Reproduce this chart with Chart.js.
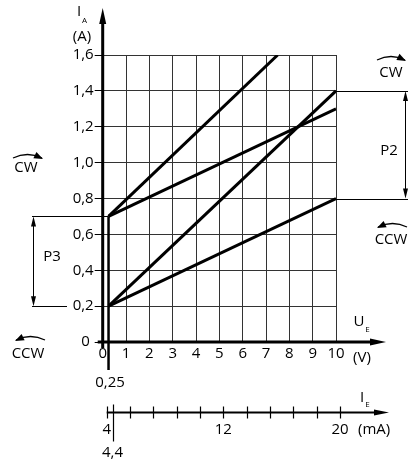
<!DOCTYPE html>
<html>
<head>
<meta charset="utf-8">
<script src="https://cdn.jsdelivr.net/npm/chart.js@4.4.1/dist/chart.umd.min.js"></script>
<style>
  html, body { margin: 0; padding: 0; background: #fff; }
  canvas { display: block; }
</style>
</head>
<body>
<canvas id="chart" width="416" height="465"></canvas>
<script>
// Characteristic lines, U_E (V) -> I_A (A)
const upperSteepX = [0.25, 7.5];
const upperSteepY = [0.7, 1.6];
const upperFlatX = [0.25, 10];
const upperFlatY = [0.7, 1.3];
const lowerSteepX = [0.25, 10];
const lowerSteepY = [0.2, 1.4];
const lowerFlatX = [0.25, 10];
const lowerFlatY = [0.2, 0.8];

// Axis ticks
const uTicks = [0, 1, 2, 3, 4, 5, 6, 7, 8, 9, 10];
const iaTicks = [0, 0.2, 0.4, 0.6, 0.8, 1.0, 1.2, 1.4, 1.6];
const ieTicks = [4, 5.6, 7.2, 8.8, 10.4, 12, 13.6, 15.2, 16.8, 18.4, 20];
const ieLabels = [4, 12, 20];

// Marked values
const uOffset = 0.25;
const ieOffset = 4.4;
const p2Range = [0.8, 1.4];
const p3Range = [0.2, 0.7];

const FONT = '"Open Sans", "Noto Sans", sans-serif';
Chart.defaults.font.family = FONT;
Chart.defaults.font.size = 15;
Chart.defaults.color = '#000';

function toPoints(xs, ys) {
    return xs.map((x, i) => ({ x: x, y: ys[i] }));
}

function lineDataset(xs, ys) {
    return {
        data: toPoints(xs, ys),
        showLine: true,
        borderColor: '#000',
        borderWidth: 3,
        pointRadius: 0,
        fill: false
    };
}

function fmtComma(v) {
    return v === 0 ? '0 ' : v.toFixed(1).replace('.', ',');
}

// little filled arrow head, tip at (x, y), pointing along angle a
function arrowHead(ctx, x, y, a, len, half) {
    ctx.save();
    ctx.translate(x, y);
    ctx.rotate(a);
    ctx.beginPath();
    ctx.moveTo(0, 0);
    ctx.lineTo(-len, -half);
    ctx.lineTo(-len, half);
    ctx.closePath();
    ctx.fill();
    ctx.restore();
}

// curved rotation arrow, head at the right end (cw) or the left end (ccw)
function turnArrow(ctx, x1, x2, y, cw) {
    const cx = (x1 + x2) / 2, cy = y - 7;
    ctx.lineWidth = 1.3;
    ctx.beginPath();
    ctx.moveTo(x1, y);
    ctx.quadraticCurveTo(cx, cy, x2, y);
    ctx.stroke();
    if (cw) {
        arrowHead(ctx, x2 + 1, y + 1, Math.atan2(y - cy, x2 - cx), 9, 3.5);
    } else {
        arrowHead(ctx, x1 - 1, y + 1, Math.atan2(y - cy, x1 - cx), 9, 3.5);
    }
}

function label(ctx, text, x, y, align, size) {
    ctx.font = (size || 15) + 'px ' + FONT;
    ctx.textAlign = align || 'center';
    ctx.textBaseline = 'middle';
    ctx.fillText(text, x, y);
}

const decorations = {
    id: 'decorations',
    afterDraw(chart) {
        const ctx = chart.ctx;
        const xs = v => chart.scales.x.getPixelForValue(v);
        const ys = v => chart.scales.y.getPixelForValue(v);
        const x0 = xs(0), y0 = ys(0);
        ctx.save();
        ctx.fillStyle = '#000';
        ctx.strokeStyle = '#000';

        // extension lines for P2 and P3
        ctx.lineWidth = 1;
        ctx.beginPath();
        p2Range.forEach(v => {
            ctx.moveTo(xs(10), Math.round(ys(v)) + 0.5);
            ctx.lineTo(408, Math.round(ys(v)) + 0.5);
        });
        ctx.moveTo(32, Math.round(ys(p3Range[1])) + 0.5);
        ctx.lineTo(xs(uOffset), Math.round(ys(p3Range[1])) + 0.5);
        ctx.moveTo(32, Math.round(ys(p3Range[0])) + 0.5);
        ctx.lineTo(67, Math.round(ys(p3Range[0])) + 0.5);
        // P2 / P3 dimension arrows
        ctx.moveTo(405.5, ys(p2Range[1]) + 8);
        ctx.lineTo(405.5, ys(p2Range[0]) - 8);
        ctx.moveTo(33.5, ys(p3Range[1]) + 8);
        ctx.lineTo(33.5, ys(p3Range[0]) - 8);
        ctx.stroke();
        arrowHead(ctx, 405.5, ys(p2Range[1]), -Math.PI / 2, 10, 2.5);
        arrowHead(ctx, 405.5, ys(p2Range[0]), Math.PI / 2, 10, 2.5);
        arrowHead(ctx, 33.5, ys(p3Range[1]), -Math.PI / 2, 10, 2.5);
        arrowHead(ctx, 33.5, ys(p3Range[0]), Math.PI / 2, 10, 2.5);
        label(ctx, 'P2', 389, 151);
        label(ctx, 'P3', 52, 257);

        // thick axes
        ctx.lineWidth = 3;
        ctx.beginPath();
        ctx.moveTo(x0, y0 + 6);
        ctx.lineTo(x0, 20);
        ctx.moveTo(x0 - 5, y0);
        ctx.lineTo(372, y0);
        ctx.stroke();
        arrowHead(ctx, x0, 8, -Math.PI / 2, 16, 3.5);
        arrowHead(ctx, 386, y0, 0, 16, 3.5);

        // U_E offset line (0,25 V)
        ctx.lineWidth = 2.5;
        ctx.beginPath();
        ctx.moveTo(xs(uOffset), ys(p3Range[1]));
        ctx.lineTo(xs(uOffset), 370);
        ctx.stroke();

        // axis titles
        label(ctx, 'I', 79, 12);
        label(ctx, 'A', 84.5, 21, 'center', 8);
        label(ctx, '(A)', 82, 37);
        label(ctx, 'U', 359, 322);
        label(ctx, 'E', 367.5, 330, 'center', 8);
        label(ctx, '(V)', 362, 358);
        label(ctx, '0,25', 110, 383);

        // I_E (mA) scale under the chart
        const ieX = mA => xs((mA - 4) / 1.6) + 4;
        const ieY = 412.5;
        ctx.lineWidth = 2;
        ctx.beginPath();
        ctx.moveTo(ieX(4), ieY);
        ctx.lineTo(376, ieY);
        ctx.stroke();
        arrowHead(ctx, 389, ieY, 0, 15, 3);
        ctx.lineWidth = 1.2;
        ctx.beginPath();
        ieTicks.forEach(v => {
            ctx.moveTo(Math.round(ieX(v)) + 0.5, ieY - 6);
            ctx.lineTo(Math.round(ieX(v)) + 0.5, ieY + 6);
        });
        ctx.moveTo(Math.round(ieX(ieOffset)) + 0.5, ieY - 8);
        ctx.lineTo(Math.round(ieX(ieOffset)) + 0.5, ieY + 29);
        ctx.stroke();
        ieLabels.forEach(v => label(ctx, String(v), ieX(v), 430));
        label(ctx, '(mA)', 358, 430, 'left');
        label(ctx, '4,4', ieX(ieOffset), 453);
        label(ctx, 'I', 362, 398);
        label(ctx, 'E', 367.5, 405, 'center', 8);

        // rotation marks
        turnArrow(ctx, 377, 405, 60, true);
        label(ctx, 'CW', 391, 73);
        turnArrow(ctx, 378, 407, 227, false);
        label(ctx, 'CCW', 391, 240);
        turnArrow(ctx, 13, 42, 158, true);
        label(ctx, 'CW', 26, 168);
        turnArrow(ctx, 16, 45, 340, false);
        label(ctx, 'CCW', 28, 354);

        ctx.restore();
    }
};

const ctx = document.getElementById('chart').getContext('2d');
const chart = new Chart(ctx, {
    type: 'scatter',
    data: {
        datasets: [
            lineDataset(upperSteepX, upperSteepY),
            lineDataset(upperFlatX, upperFlatY),
            lineDataset(lowerSteepX, lowerSteepY),
            lineDataset(lowerFlatX, lowerFlatY)
        ]
    },
    options: {
        responsive: false,
        animation: false,
        events: [],
        layout: {
            padding: { left: 62.7, right: 80, top: 55, bottom: 93 }
        },
        plugins: {
            legend: { display: false },
            tooltip: { enabled: false }
        },
        scales: {
            x: {
                type: 'linear',
                min: 0,
                max: 10,
                afterBuildTicks: s => { s.ticks = uTicks.map(v => ({ value: v })); },
                afterFit: s => { s.height = 30; s.paddingLeft = 0; s.paddingRight = 0; },
                ticks: { padding: 3, maxRotation: 0, autoSkip: false, callback: v => String(v) },
                grid: { color: '#333', lineWidth: 1, drawTicks: false },
                border: { display: false }
            },
            y: {
                type: 'linear',
                min: 0,
                max: 1.6,
                afterBuildTicks: s => { s.ticks = iaTicks.map(v => ({ value: v })); },
                afterFit: s => { s.width = 40; s.paddingTop = 0; s.paddingBottom = 0; },
                ticks: { padding: 1, autoSkip: false, callback: v => fmtComma(v) },
                grid: { color: '#333', lineWidth: 1, drawTicks: true, tickLength: 8, tickColor: '#000' },
                border: { display: false }
            }
        }
    },
    plugins: [decorations]
});
</script>
</body>
</html>
